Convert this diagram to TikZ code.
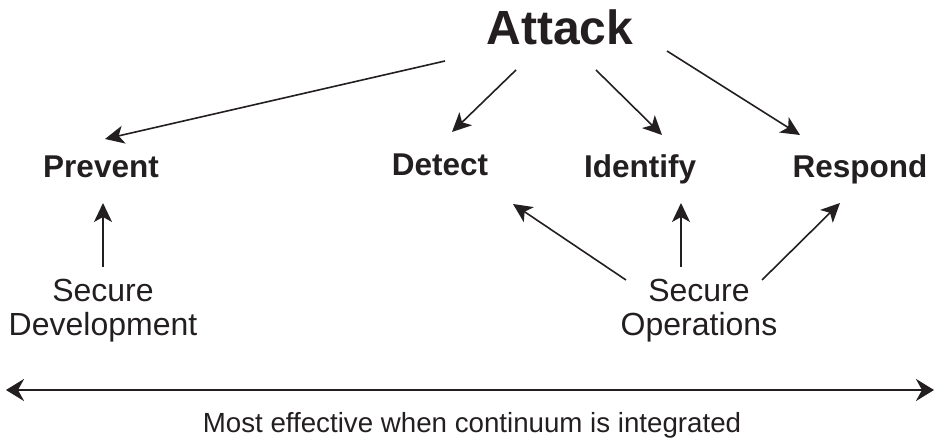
\documentclass[tikz,border=0pt]{standalone}
\usepackage{fontspec}
\setmainfont{Liberation Sans}
\usetikzlibrary{arrows.meta}
\definecolor{ink}{RGB}{35,31,32}
\begin{document}
\begin{tikzpicture}[x=1pt, y=-1pt, ink, text=ink,
        head/.style={inner sep=0pt, anchor=base, font=\fontsize{31.5}{34}\selectfont\bfseries},
        source/.style={inner sep=0pt, align=center, font=\fontsize{32}{34}\selectfont},
        arr/.style={line width=1.6pt, -{Stealth[length=19pt, width=18pt, inset=5pt]}},
        span/.style={line width=2.6pt, {Stealth[length=18pt, width=22pt, inset=6pt]}-{Stealth[length=18pt, width=22pt, inset=6pt]}}]
            \useasboundingbox (0,0) rectangle (935,443);
            \node[inner sep=0pt, anchor=base, font=\fontsize{48}{50}\selectfont\bfseries] (attack) at (560,45) {Attack};
            \node[head] (prevent) at (101,178) {Prevent};
            \node[head] (detect) at (440,176) {Detect};
            \node[head] (identify) at (640,178) {Identify};
            \node[head] (respond) at (860,178) {Respond};
            \node[source] (securedev) at (103,311) {Secure\\Development};
            \node[source] (secureops) at (699,311) {Secure\\Operations};
            \node[inner sep=0pt, anchor=base, font=\fontsize{27.7}{30}\selectfont] (note) at (472,433) {Most effective when continuum is integrated};
            \coordinate (leftend) at (6,390);
            \coordinate (rightend) at (934,390);
            \draw[arr] ([shift={(-115,16)}]attack.base) -- ([shift={(4,-39)}]prevent.base);
            \draw[arr] ([shift={(-44,25)}]attack.base) -- ([shift={(12,-44)}]detect.base);
            \draw[arr] ([shift={(36,25)}]attack.base) -- ([shift={(22,-43)}]identify.base);
            \draw[arr] ([shift={(107,6)}]attack.base) -- ([shift={(-60,-43)}]respond.base);
            \draw[arr] ([shift={(0,-44)}]securedev.center) -- ([shift={(2,25)}]prevent.base);
            \draw[arr] ([shift={(-73,-31)}]secureops.center) -- ([shift={(73,28)}]detect.base);
            \draw[arr] ([shift={(-18,-44)}]secureops.center) -- ([shift={(41,25)}]identify.base);
            \draw[arr] ([shift={(63,-31)}]secureops.center) -- ([shift={(-20,25)}]respond.base);
            \draw[span] (leftend) -- (rightend);
        \end{tikzpicture}
\end{document}
